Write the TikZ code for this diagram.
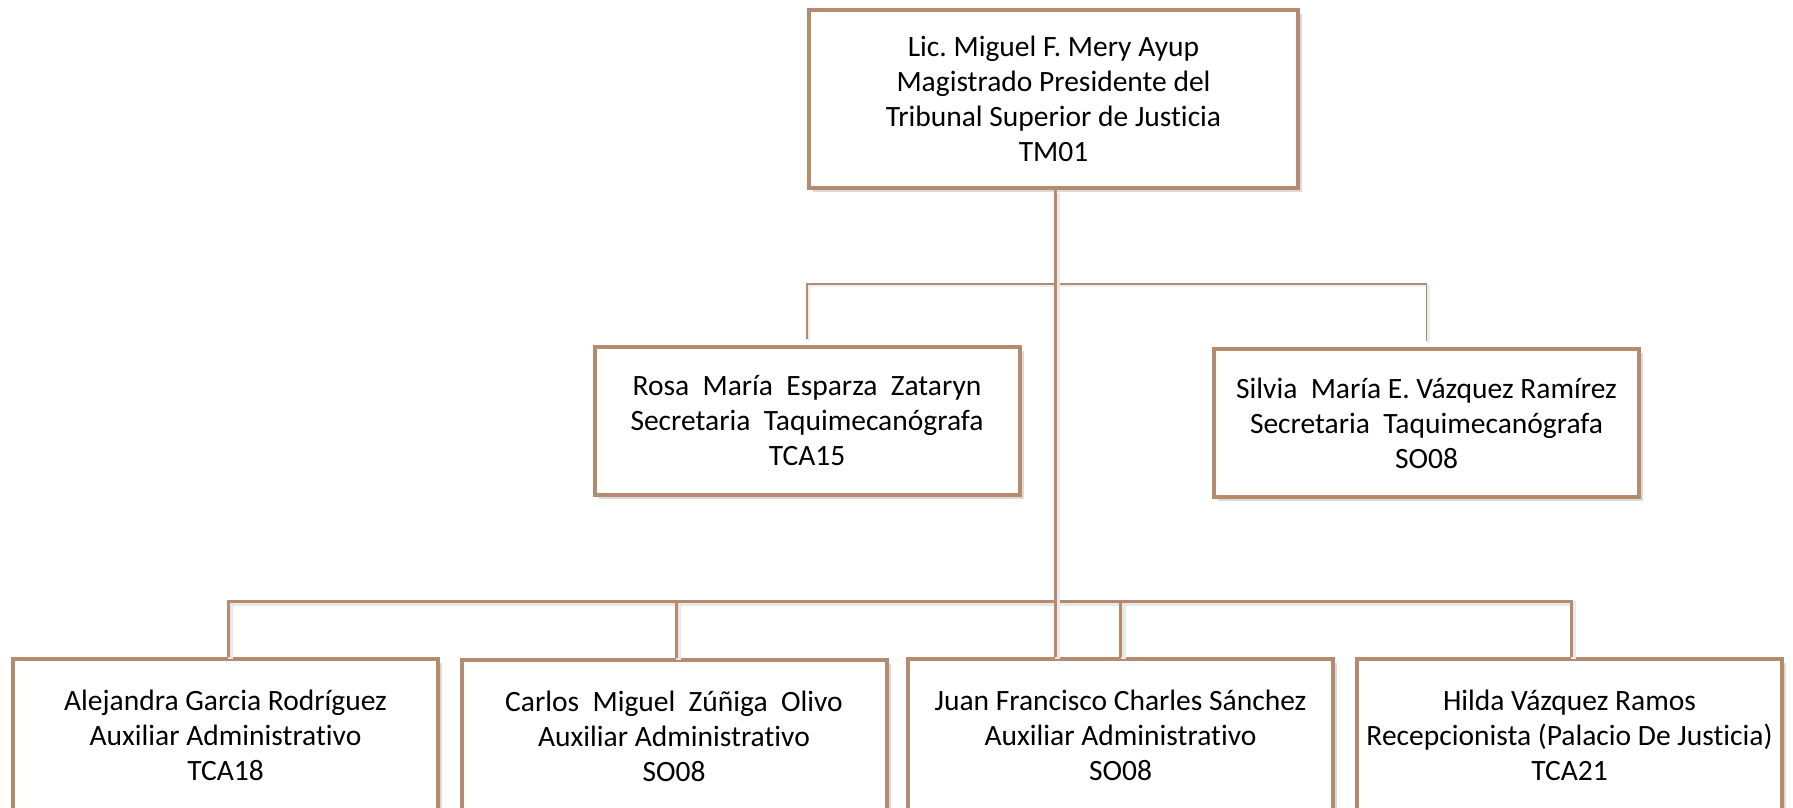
\documentclass[tikz,border=0pt]{standalone}
\usepackage{fontspec}
\setmainfont{Carlito}[Ligatures=NoCommon]
\usepackage{tikz}
\usetikzlibrary{calc,shadows}

\definecolor{tanline}{RGB}{181,139,111}

\tikzset{
  post/.style={draw=tanline, line width=4pt, fill=white, align=center,
    minimum width=425pt, minimum height=148pt, inner sep=0pt,
    font=\fontsize{29.5}{35}\selectfont,
    drop shadow={shadow xshift=4pt, shadow yshift=-4pt, opacity=.2, fill=black!70}},
  lowpost/.style={post, minimum height=153pt},
  conn/.style={draw=tanline, line width=3pt,
    preaction={draw=black!9, line width=5pt, transform canvas={shift={(2.5pt,-2.5pt)}}}},
  thinconn/.style={draw=tanline, line width=1.3pt,
    preaction={draw=black!7, line width=2.5pt, transform canvas={shift={(2pt,-2pt)}}}},
}

\begin{document}
\frenchspacing
\begin{tikzpicture}[x=1pt,y=1pt,yscale=-1,xscale=1]
\useasboundingbox (0,0) rectangle (1793,807);
\clip (0,0) rectangle (1793,807);

%Boxes
\node[post, minimum width=489pt, minimum height=178pt] (president) at (1053.5,99)
  {Lic. Miguel F. Mery Ayup\\Magistrado Presidente del\\Tribunal Superior de Justicia\\TM01};
\node[post] (rosa) at (807,421)
  {Rosa\ \ María\ \ Esparza\ \ Zataryn\\Secretaria\ \ Taquimecanógrafa\\TCA15};
\node[post] (silvia) at (1426.5,423)
  {Silvia\ \ María E. Vázquez Ramírez\\Secretaria\ \ Taquimecanógrafa\\SO08};
\node[lowpost] (alejandra) at (225.5,735)
  {Alejandra Garcia Rodríguez\\Auxiliar Administrativo\\TCA18};
\node[lowpost] (carlos) at (674,736)
  {Carlos\ \ Miguel\ \ Zúñiga\ \ Olivo\\Auxiliar Administrativo\\SO08};
\node[lowpost] (juan) at (1120.5,735)
  {Juan Francisco Charles Sánchez\\Auxiliar Administrativo\\SO08};
\node[lowpost] (hilda) at (1569.5,735)
  {Hilda Vázquez Ramos\\Recepcionista (Palacio De Justicia)\\TCA21};

%Lines
\coordinate (bus) at (0,601);
\coordinate (branch) at (0,284);
\draw[conn] ([xshift=2.5pt]alejandra.north) -- ([xshift=2.5pt]alejandra.north |- bus)
  -- ([xshift=1.5pt]hilda.north |- bus) -- ([xshift=1.5pt]hilda.north);
\draw[conn] ([xshift=2pt]carlos.north |- bus) -- ([xshift=2pt]carlos.north);
\draw[conn] (juan.north |- bus) -- (juan.north);
\draw[thinconn, shorten <=6pt, shorten >=6pt] (rosa.north) -- (rosa.north |- branch)
  -- (silvia.north |- branch) -- (silvia.north);
\draw[conn] ([xshift=1.5pt]president.south) -- ([xshift=1.5pt]president.south |- juan.north);
\end{tikzpicture}
\end{document}
